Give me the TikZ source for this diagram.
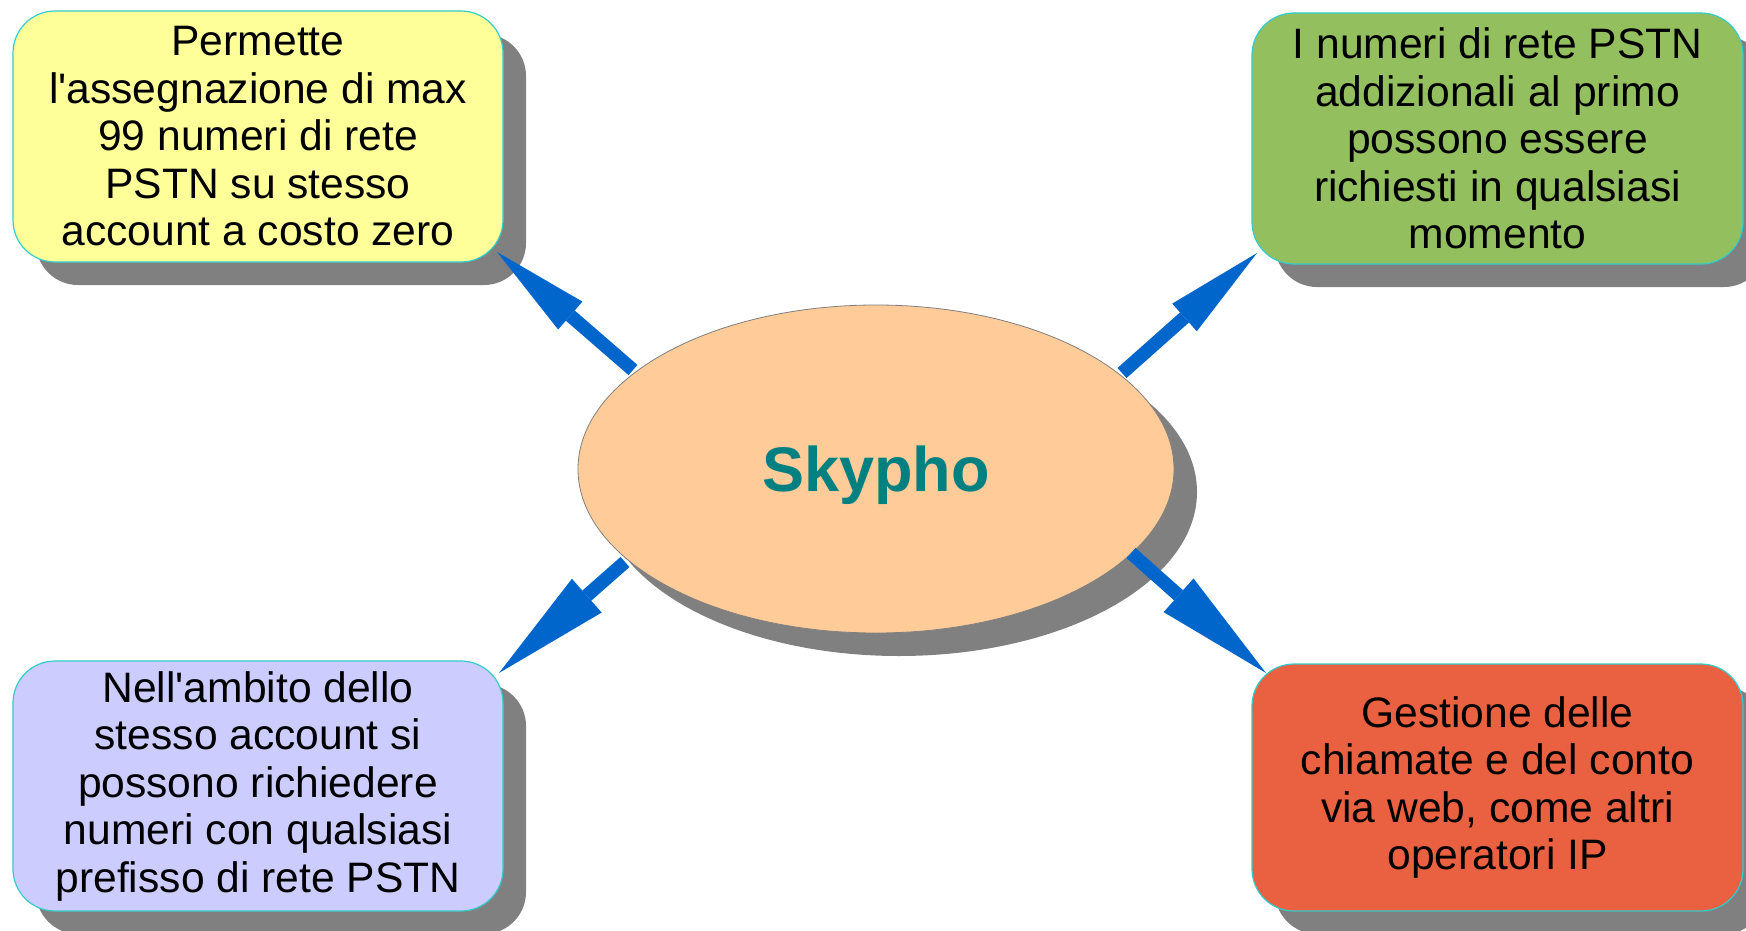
\documentclass[tikz,border=0pt]{standalone}
\usepackage{fontspec}
\setmainfont{Liberation Sans}
\usetikzlibrary{arrows.meta,shadows,shapes.geometric}
\definecolor{boxyellow}{RGB}{255,255,153}
\definecolor{boxgreen}{RGB}{147,191,95}
\definecolor{boxlav}{RGB}{204,204,255}
\definecolor{boxred}{RGB}{233,97,64}
\definecolor{peach}{RGB}{255,204,153}
\definecolor{shadowgray}{RGB}{128,128,128}
\definecolor{arrowblue}{RGB}{0,102,204}
\definecolor{edgecyan}{RGB}{51,204,204}
\definecolor{tealtext}{RGB}{0,128,128}
\begin{document}
\begin{tikzpicture}[x=1pt,y=-1pt,
  grayshadow/.style={drop shadow={shadow xshift=23pt, shadow yshift=-23pt, fill=shadowgray, opacity=1}},
  infobox/.style={rectangle, rounded corners=42pt, draw=edgecyan, line width=1.2pt,
    align=center, inner sep=0pt, text=black,
    font=\fontsize{42.6}{47.5}\selectfont, grayshadow},
  hub/.style={ellipse, fill=peach, draw=gray, line width=0.8pt, inner sep=0pt,
    minimum width=596pt, minimum height=328pt, grayshadow, text depth=0pt,
    font=\fontsize{63}{70}\selectfont\bfseries, text=tealtext},
  conn/.style={draw=arrowblue, line width=13.5pt,
    -{Triangle[length=97pt, width=37pt, line width=0pt]}},
  connbig/.style={draw=arrowblue, line width=13.5pt,
    -{Triangle[length=117pt, width=45pt, line width=0pt]}}
]
\useasboundingbox (0,0) rectangle (1746,931);
\fill[white] (0,0) rectangle (1746,931);

\node[infobox, fill=boxyellow, minimum width=490pt, minimum height=251pt] (yellow) at (258,136.5)
  {Permette\\l\textquotesingle assegnazione di max\\99 numeri di rete\\PSTN su stesso\\account a costo zero};
\node[infobox, fill=boxgreen, minimum width=491pt, minimum height=251pt] (green) at (1497.5,138.5)
  {I numeri di rete PSTN\\addizionali al primo\\possono essere\\richiesti in qualsiasi\\momento};
\node[infobox, fill=boxlav, minimum width=490pt, minimum height=250pt] (lav) at (258,786)
  {Nell\textquotesingle ambito dello\\stesso account si\\possono richiedere\\numeri con qualsiasi\\prefisso di rete PSTN};
\node[infobox, fill=boxred, minimum width=491pt, minimum height=247pt] (red) at (1497.5,787.5)
  {Gestione delle\\chiamate e del conto\\via web, come altri\\operatori IP};

\node[hub] (sk) at (876,469) {Skypho};

\coordinate (a1s) at (633,370);  \coordinate (a1t) at (497,252);
\coordinate (a2s) at (1122,373); \coordinate (a2t) at (1257,253);
\coordinate (a3s) at (625,562);  \coordinate (a3t) at (499,673);
\coordinate (a4s) at (1131,553); \coordinate (a4t) at (1266,673);

\draw[conn] (a1s) -- (a1t);
\draw[conn] (a2s) -- (a2t);
\draw[connbig] (a3s) -- (a3t);
\draw[connbig] (a4s) -- (a4t);
\end{tikzpicture}
\end{document}
